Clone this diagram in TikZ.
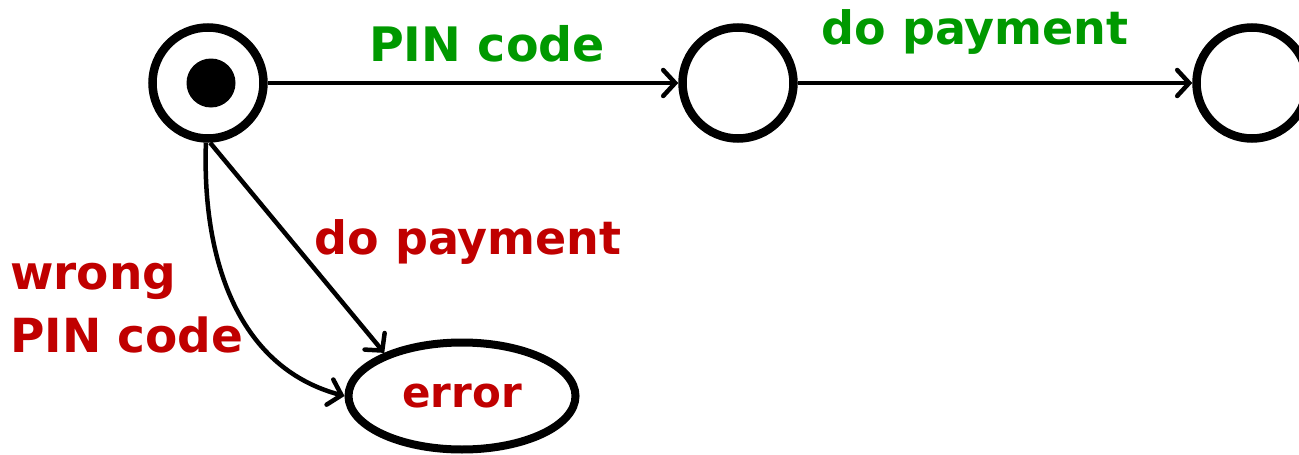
\documentclass[tikz,border=0pt]{standalone}
\usepackage{fontspec}
\setmainfont{DejaVu Sans}
\usetikzlibrary{arrows.meta,shapes.geometric}
\definecolor{okgreen}{RGB}{0,153,0}
\definecolor{badred}{RGB}{192,0,0}
\begin{document}
\begin{tikzpicture}[x=1pt,y=-1pt,
  state/.style={circle,draw,line width=8.5pt,minimum size=111pt,inner sep=0pt},
  errstate/.style={ellipse,draw,line width=8pt,minimum width=227pt,minimum height=107pt,inner sep=0pt},
  trans/.style={line width=4.5pt,-{Straight Barb[length=12pt,width=26pt,line cap=round]}},
  lbl/.style={font=\bfseries\fontsize{46}{60}\selectfont,inner sep=0pt},
  good/.style={lbl,text=okgreen},
  bad/.style={lbl,text=badred}]
\useasboundingbox (0,0) rectangle (1299,455);
% states
\node[state] (init) at (208,83) {};
\fill (211,83) circle (24.5pt);
\node[state] (pin) at (738,83) {};
\node[state] (paid) at (1252,83) {};
\node[errstate,font=\bfseries\fontsize{42}{48}\selectfont,text=badred] (err) at (462,396) {error};
% transitions
\draw[trans] (init) -- (pin);
\draw[trans] (pin) -- (paid);
\draw[trans] (init.-88) -- (err.151);
\draw[trans] (init.-92) to[out=268,in=165] (err.west);
% labels
\node[good,font=\bfseries\fontsize{47.5}{60}\selectfont] (l1) at (487,44) {PIN code};
\node[good] (l2) at (975,32) {do payment};
\node[bad] (l3) at (468,242) {do payment};
\node[bad,anchor=west,align=left,font=\bfseries\fontsize{47}{63}\selectfont] (l4) at (10,308) {wrong\\PIN code};
\end{tikzpicture}
\end{document}
